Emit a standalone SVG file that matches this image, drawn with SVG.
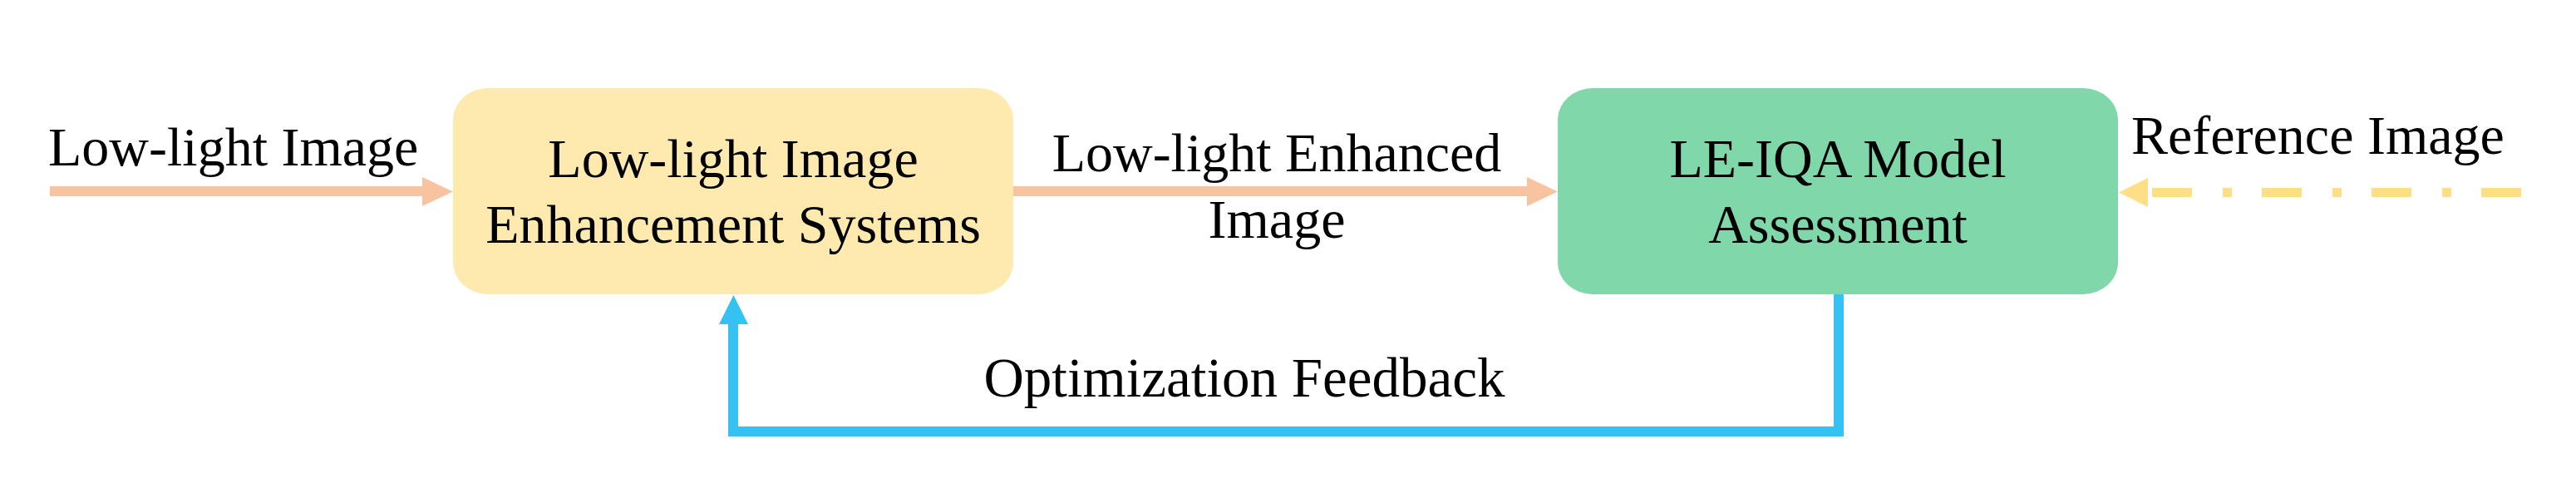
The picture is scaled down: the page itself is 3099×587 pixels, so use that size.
<svg xmlns="http://www.w3.org/2000/svg" width="3099" height="587" viewBox="0 0 3099 587">
<style>
  text { font-family: "Liberation Serif", "Times New Roman", serif; font-size: 66px; fill: #000; }
  .mid { text-anchor: middle; }
  .peach { stroke: #F7C3A0; stroke-width: 12; fill: none; }
  .blue { stroke: #35C1F1; stroke-width: 12; fill: none; }
  .dash { stroke: #FFDF86; stroke-width: 11; fill: none; stroke-dasharray: 48 36 11 37; }
</style>
<rect width="3099" height="587" fill="#fff"/>
<g id="connectors">
  <g id="in-arrow">
    <line class="peach" x1="60" y1="230" x2="510" y2="230"/>
    <polygon points="508,213 545,230.5 508,248" fill="#F7C3A0"/>
  </g>
  <g id="mid-arrow">
    <line class="peach" x1="1219" y1="230" x2="1839" y2="230"/>
    <polygon points="1837,213 1874,230.5 1837,248" fill="#F7C3A0"/>
  </g>
  <g id="ref-arrow">
    <line class="dash" x1="3033" y1="231.5" x2="2589" y2="231.5"/>
    <polygon points="2584,214 2549,231.5 2584,249" fill="#FFDF86"/>
  </g>
  <g id="feedback">
    <polyline class="blue" points="2212,354 2212,519 882,519 882,388"/>
    <polygon points="865,390 882.5,355 900,390" fill="#35C1F1"/>
  </g>
</g>
<g id="labels">
  <text x="58" y="199">Low-light Image</text>
  <text class="mid" x="1536" y="206">Low-light Enhanced</text>
  <text class="mid" x="1536" y="286">Image</text>
  <text x="2564" y="185">Reference Image</text>
  <text class="mid" x="1497" y="477" style="font-size:67px">Optimization Feedback</text>
</g>
<g id="node-enhancement">
  <rect x="545" y="106" width="674" height="248" rx="42" ry="38" fill="#FEEAAF"/>
  <text class="mid" x="882" y="213">Low-light Image</text>
  <text class="mid" x="882" y="292">Enhancement Systems</text>
</g>
<g id="node-leiqa">
  <rect x="1874" y="106" width="674" height="248" rx="42" ry="38" fill="#80D7A9"/>
  <text class="mid" x="2211" y="213">LE-IQA Model</text>
  <text class="mid" x="2211" y="292">Assessment</text>
</g>
</svg>
